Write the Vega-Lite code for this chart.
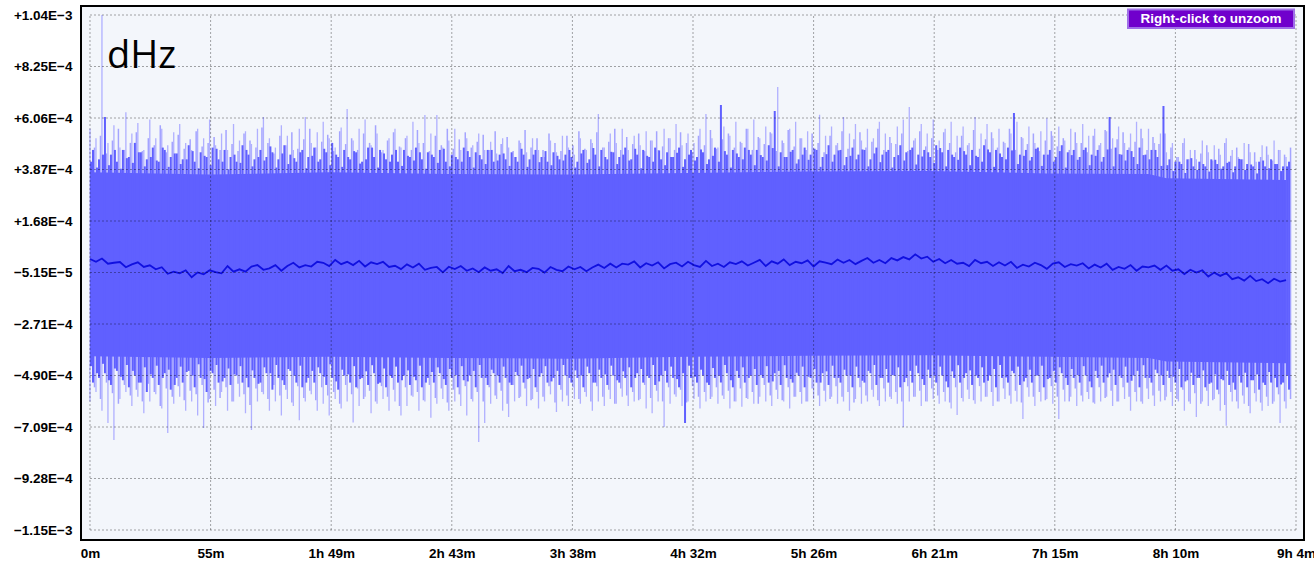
{
  "$schema": "https://vega.github.io/schema/vega-lite/v6.json",
  "width": 1223,
  "height": 534,
  "autosize": {"type": "none"},
  "padding": {"left": 81, "top": 6, "right": 10, "bottom": 23},
  "background": "white",
  "view": {"stroke": "black", "strokeWidth": 2, "fill": "#F3F6FB"},
  "config": {
    "axis": {"labelFont": "Liberation Sans", "labelFontWeight": "bold", "labelFontSize": 13.5, "labelColor": "black", "ticks": false, "domain": false, "grid": false, "labelOverlap": false, "labelFlush": false, "labelBound": false}
  },
  "datasets": {
    "yt": [{"v":1044.125},{"v":825},{"v":605.875},{"v":386.75},{"v":167.625},{"v":-51.5},{"v":-270.625},{"v":-489.75},{"v":-708.875},{"v":-928},{"v":-1147.125}],
    "xt": [{"t":0},{"t":54.45},{"t":108.9},{"t":163.35},{"t":217.8},{"t":272.25},{"t":326.7},{"t":381.15},{"t":435.6},{"t":490.05},{"t":544.5}],
    "band": [
      {"t":0,"top":375,"bot":-408},{"t":54,"top":365,"bot":-415},{"t":108,"top":375,"bot":-410},{"t":162,"top":368,"bot":-415},
      {"t":216,"top":366,"bot":-418},{"t":270,"top":372,"bot":-410},{"t":324,"top":378,"bot":-406},{"t":378,"top":380,"bot":-404},
      {"t":432,"top":370,"bot":-410},{"t":478,"top":368,"bot":-415},{"t":486,"top":350,"bot":-430},{"t":540,"top":342,"bot":-438}
    ],
    "sig": [
      {"t":0,"hi":560,"lo":-600,"h2":470,"l2":-520,"a":420,"b":-450,"c":480,"d":-540,"m":6},
      {"t":2.7,"hi":520,"lo":-560,"h2":430,"l2":-500,"a":395,"b":-480,"c":530,"d":-590,"m":-6},
      {"t":5.4,"hi":1044,"lo":-640,"h2":610,"l2":-480,"a":450,"b":-440,"c":455,"d":-520,"m":8},
      {"t":8.1,"hi":500,"lo":-692,"h2":450,"l2":-530,"a":405,"b":-510,"c":510,"d":-565,"m":-14},
      {"t":10.8,"hi":575,"lo":-764,"h2":420,"l2":-470,"a":470,"b":-460,"c":560,"d":-610,"m":-10},
      {"t":13.5,"hi":480,"lo":-590,"h2":470,"l2":-510,"a":390,"b":-495,"c":470,"d":-530,"m":-7},
      {"t":16.2,"hi":630,"lo":-560,"h2":440,"l2":-540,"a":435,"b":-445,"c":500,"d":-575,"m":-29},
      {"t":18.9,"hi":540,"lo":-620,"h2":500,"l2":-490,"a":415,"b":-470,"c":545,"d":-550,"m":-17},
      {"t":21.6,"hi":585,"lo":-580,"h2":460,"l2":-520,"a":460,"b":-520,"c":465,"d":-600,"m":-8},
      {"t":24.3,"hi":470,"lo":-650,"h2":430,"l2":-560,"a":400,"b":-455,"c":520,"d":-525,"m":-28},
      {"t":27,"hi":600,"lo":-600,"h2":480,"l2":-500,"a":440,"b":-485,"c":490,"d":-560,"m":-21},
      {"t":29.7,"hi":520,"lo":-570,"h2":420,"l2":-530,"a":425,"b":-448,"c":575,"d":-620,"m":-38},
      {"t":32.4,"hi":560,"lo":-630,"h2":470,"l2":-480,"a":480,"b":-500,"c":460,"d":-545,"m":-29},
      {"t":35.1,"hi":490,"lo":-734,"h2":440,"l2":-550,"a":398,"b":-465,"c":505,"d":-580,"m":-57},
      {"t":37.8,"hi":545,"lo":-610,"h2":455,"l2":-500,"a":455,"b":-530,"c":535,"d":-535,"m":-48},
      {"t":40.5,"hi":580,"lo":-580,"h2":430,"l2":-520,"a":410,"b":-452,"c":475,"d":-595,"m":-55},
      {"t":43.2,"hi":500,"lo":-640,"h2":490,"l2":-470,"a":430,"b":-475,"c":515,"d":-555,"m":-42},
      {"t":45.9,"hi":470,"lo":-600,"h2":420,"l2":-540,"a":465,"b":-490,"c":550,"d":-570,"m":-72},
      {"t":48.6,"hi":560,"lo":-660,"h2":460,"l2":-500,"a":392,"b":-442,"c":485,"d":-530,"m":-51},
      {"t":51.3,"hi":520,"lo":-713,"h2":440,"l2":-560,"a":445,"b":-505,"c":500,"d":-605,"m":-59},
      {"t":54,"hi":600,"lo":-590,"h2":480,"l2":-480,"a":405,"b":-470,"c":525,"d":-550,"m":-42},
      {"t":56.7,"hi":490,"lo":-620,"h2":430,"l2":-520,"a":475,"b":-445,"c":470,"d":-585,"m":-50},
      {"t":59.4,"hi":540,"lo":-560,"h2":470,"l2":-500,"a":420,"b":-515,"c":555,"d":-540,"m":-55},
      {"t":62.1,"hi":470,"lo":-640,"h2":440,"l2":-530,"a":388,"b":-460,"c":495,"d":-600,"m":-24},
      {"t":64.8,"hi":580,"lo":-600,"h2":420,"l2":-490,"a":450,"b":-485,"c":465,"d":-525,"m":-48},
      {"t":67.5,"hi":510,"lo":-580,"h2":490,"l2":-520,"a":415,"b":-450,"c":540,"d":-570,"m":-38},
      {"t":70.2,"hi":550,"lo":-650,"h2":450,"l2":-540,"a":470,"b":-500,"c":510,"d":-615,"m":-48},
      {"t":72.9,"hi":495,"lo":-722,"h2":430,"l2":-500,"a":400,"b":-468,"c":480,"d":-545,"m":-26},
      {"t":75.6,"hi":560,"lo":-600,"h2":470,"l2":-520,"a":440,"b":-525,"c":565,"d":-560,"m":-20},
      {"t":78.3,"hi":610,"lo":-570,"h2":440,"l2":-480,"a":425,"b":-455,"c":500,"d":-590,"m":-40},
      {"t":81,"hi":520,"lo":-640,"h2":460,"l2":-550,"a":485,"b":-480,"c":455,"d":-530,"m":-34},
      {"t":83.7,"hi":480,"lo":-600,"h2":430,"l2":-500,"a":395,"b":-445,"c":530,"d":-575,"m":-20},
      {"t":86.4,"hi":575,"lo":-660,"h2":490,"l2":-530,"a":455,"b":-510,"c":490,"d":-550,"m":-44},
      {"t":89.1,"hi":530,"lo":-590,"h2":450,"l2":-470,"a":410,"b":-462,"c":545,"d":-605,"m":-24},
      {"t":91.8,"hi":470,"lo":-620,"h2":420,"l2":-520,"a":435,"b":-490,"c":475,"d":-535,"m":-10},
      {"t":94.5,"hi":560,"lo":-680,"h2":470,"l2":-540,"a":460,"b":-448,"c":515,"d":-585,"m":-30},
      {"t":97.2,"hi":610,"lo":-600,"h2":440,"l2":-500,"a":392,"b":-520,"c":560,"d":-555,"m":-20},
      {"t":99.9,"hi":500,"lo":-570,"h2":480,"l2":-520,"a":445,"b":-470,"c":480,"d":-595,"m":-26},
      {"t":102.6,"hi":545,"lo":-640,"h2":430,"l2":-480,"a":420,"b":-455,"c":505,"d":-540,"m":-6},
      {"t":105.3,"hi":590,"lo":-610,"h2":460,"l2":-530,"a":475,"b":-495,"c":535,"d":-575,"m":-10},
      {"t":108,"hi":520,"lo":-660,"h2":500,"l2":-500,"a":405,"b":-442,"c":465,"d":-560,"m":-24},
      {"t":110.7,"hi":480,"lo":-590,"h2":440,"l2":-550,"a":450,"b":-515,"c":550,"d":-610,"m":2},
      {"t":113.4,"hi":565,"lo":-630,"h2":470,"l2":-490,"a":398,"b":-465,"c":495,"d":-530,"m":-16},
      {"t":116.1,"hi":644,"lo":-600,"h2":430,"l2":-520,"a":440,"b":-485,"c":520,"d":-570,"m":-6},
      {"t":118.8,"hi":510,"lo":-690,"h2":460,"l2":-540,"a":465,"b":-450,"c":470,"d":-545,"m":-20},
      {"t":121.5,"hi":560,"lo":-620,"h2":420,"l2":-500,"a":412,"b":-505,"c":540,"d":-590,"m":-2},
      {"t":124.2,"hi":600,"lo":-580,"h2":480,"l2":-530,"a":430,"b":-472,"c":500,"d":-555,"m":-26},
      {"t":126.9,"hi":490,"lo":-650,"h2":440,"l2":-480,"a":480,"b":-446,"c":575,"d":-600,"m":-8},
      {"t":129.6,"hi":540,"lo":-610,"h2":470,"l2":-520,"a":395,"b":-525,"c":460,"d":-535,"m":-16},
      {"t":132.3,"hi":470,"lo":-590,"h2":430,"l2":-540,"a":455,"b":-460,"c":510,"d":-580,"m":-6},
      {"t":135,"hi":520,"lo":-640,"h2":450,"l2":-500,"a":420,"b":-490,"c":545,"d":-550,"m":-28},
      {"t":137.7,"hi":560,"lo":-600,"h2":420,"l2":-520,"a":470,"b":-452,"c":485,"d":-620,"m":-23},
      {"t":140.4,"hi":480,"lo":-660,"h2":470,"l2":-490,"a":402,"b":-510,"c":520,"d":-540,"m":-37},
      {"t":143.1,"hi":530,"lo":-620,"h2":440,"l2":-530,"a":445,"b":-468,"c":470,"d":-575,"m":-17},
      {"t":145.8,"hi":590,"lo":-580,"h2":480,"l2":-510,"a":425,"b":-495,"c":555,"d":-560,"m":-30},
      {"t":148.5,"hi":500,"lo":-640,"h2":430,"l2":-540,"a":460,"b":-448,"c":500,"d":-595,"m":-14},
      {"t":151.2,"hi":619,"lo":-600,"h2":460,"l2":-500,"a":390,"b":-520,"c":465,"d":-530,"m":-40},
      {"t":153.9,"hi":540,"lo":-670,"h2":440,"l2":-520,"a":450,"b":-475,"c":530,"d":-585,"m":-32},
      {"t":156.6,"hi":619,"lo":-610,"h2":470,"l2":-480,"a":415,"b":-455,"c":490,"d":-545,"m":-28},
      {"t":159.3,"hi":480,"lo":-590,"h2":420,"l2":-530,"a":475,"b":-505,"c":560,"d":-605,"m":-51},
      {"t":162,"hi":510,"lo":-640,"h2":450,"l2":-500,"a":400,"b":-462,"c":475,"d":-550,"m":-27},
      {"t":164.7,"hi":560,"lo":-600,"h2":430,"l2":-540,"a":440,"b":-488,"c":515,"d":-570,"m":-37},
      {"t":167.4,"hi":470,"lo":-620,"h2":480,"l2":-510,"a":420,"b":-450,"c":545,"d":-535,"m":-24},
      {"t":170.1,"hi":520,"lo":-660,"h2":440,"l2":-490,"a":465,"b":-515,"c":480,"d":-590,"m":-44},
      {"t":172.8,"hi":490,"lo":-600,"h2":460,"l2":-540,"a":395,"b":-470,"c":505,"d":-560,"m":-34},
      {"t":175.5,"hi":540,"lo":-773,"h2":430,"l2":-500,"a":448,"b":-445,"c":535,"d":-600,"m":-50},
      {"t":178.2,"hi":470,"lo":-692,"h2":470,"l2":-530,"a":410,"b":-500,"c":470,"d":-540,"m":-30},
      {"t":180.9,"hi":505,"lo":-610,"h2":420,"l2":-480,"a":470,"b":-465,"c":550,"d":-575,"m":-44},
      {"t":183.6,"hi":455,"lo":-590,"h2":450,"l2":-520,"a":425,"b":-490,"c":495,"d":-555,"m":-38},
      {"t":186.3,"hi":520,"lo":-640,"h2":430,"l2":-500,"a":455,"b":-452,"c":525,"d":-610,"m":-54},
      {"t":189,"hi":480,"lo":-666,"h2":460,"l2":-530,"a":402,"b":-520,"c":465,"d":-530,"m":-24},
      {"t":191.7,"hi":440,"lo":-600,"h2":420,"l2":-490,"a":440,"b":-475,"c":510,"d":-585,"m":-46},
      {"t":194.4,"hi":500,"lo":-580,"h2":450,"l2":-520,"a":475,"b":-448,"c":555,"d":-545,"m":-40},
      {"t":197.1,"hi":460,"lo":-620,"h2":430,"l2":-500,"a":398,"b":-505,"c":480,"d":-595,"m":-50},
      {"t":199.8,"hi":520,"lo":-590,"h2":470,"l2":-540,"a":450,"b":-462,"c":520,"d":-560,"m":-32},
      {"t":202.5,"hi":470,"lo":-630,"h2":440,"l2":-480,"a":418,"b":-495,"c":470,"d":-580,"m":-36},
      {"t":205.2,"hi":440,"lo":-600,"h2":420,"l2":-520,"a":465,"b":-450,"c":540,"d":-535,"m":-52},
      {"t":207.9,"hi":510,"lo":-570,"h2":460,"l2":-500,"a":405,"b":-515,"c":500,"d":-605,"m":-28},
      {"t":210.6,"hi":460,"lo":-645,"h2":430,"l2":-530,"a":445,"b":-470,"c":465,"d":-550,"m":-40},
      {"t":213.3,"hi":530,"lo":-600,"h2":450,"l2":-490,"a":425,"b":-445,"c":530,"d":-575,"m":-46},
      {"t":216,"hi":480,"lo":-620,"h2":440,"l2":-520,"a":470,"b":-500,"c":490,"d":-540,"m":-26},
      {"t":218.7,"hi":450,"lo":-590,"h2":420,"l2":-500,"a":395,"b":-468,"c":550,"d":-590,"m":-38},
      {"t":221.4,"hi":520,"lo":-610,"h2":470,"l2":-540,"a":455,"b":-490,"c":475,"d":-560,"m":-28},
      {"t":224.1,"hi":470,"lo":-580,"h2":430,"l2":-480,"a":415,"b":-452,"c":515,"d":-600,"m":-46},
      {"t":226.8,"hi":500,"lo":-640,"h2":450,"l2":-520,"a":478,"b":-520,"c":545,"d":-535,"m":-30},
      {"t":229.5,"hi":623,"lo":-600,"h2":470,"l2":-500,"a":400,"b":-465,"c":480,"d":-580,"m":-18},
      {"t":232.2,"hi":480,"lo":-620,"h2":430,"l2":-530,"a":440,"b":-485,"c":505,"d":-550,"m":-32},
      {"t":234.9,"hi":540,"lo":-590,"h2":460,"l2":-490,"a":462,"b":-448,"c":560,"d":-610,"m":-14},
      {"t":237.6,"hi":500,"lo":-610,"h2":440,"l2":-520,"a":410,"b":-510,"c":470,"d":-545,"m":-30},
      {"t":240.3,"hi":560,"lo":-580,"h2":480,"l2":-500,"a":450,"b":-472,"c":525,"d":-575,"m":-14},
      {"t":243,"hi":470,"lo":-620,"h2":430,"l2":-540,"a":425,"b":-455,"c":495,"d":-560,"m":-18},
      {"t":245.7,"hi":530,"lo":-600,"h2":450,"l2":-480,"a":475,"b":-500,"c":540,"d":-595,"m":-4},
      {"t":248.4,"hi":490,"lo":-590,"h2":470,"l2":-520,"a":392,"b":-462,"c":465,"d":-530,"m":-30},
      {"t":251.1,"hi":550,"lo":-630,"h2":440,"l2":-500,"a":445,"b":-490,"c":510,"d":-585,"m":-12},
      {"t":253.8,"hi":510,"lo":-650,"h2":480,"l2":-530,"a":420,"b":-445,"c":550,"d":-555,"m":-22},
      {"t":256.5,"hi":470,"lo":-600,"h2":430,"l2":-490,"a":468,"b":-515,"c":485,"d":-600,"m":-8},
      {"t":259.2,"hi":560,"lo":-709,"h2":460,"l2":-520,"a":405,"b":-470,"c":520,"d":-540,"m":-34},
      {"t":261.9,"hi":520,"lo":-610,"h2":440,"l2":-500,"a":440,"b":-452,"c":470,"d":-570,"m":-16},
      {"t":264.6,"hi":580,"lo":-580,"h2":480,"l2":-540,"a":458,"b":-505,"c":545,"d":-550,"m":-10},
      {"t":267.3,"hi":490,"lo":-620,"h2":430,"l2":-692,"a":398,"b":-480,"c":500,"d":-605,"m":-26},
      {"t":270,"hi":540,"lo":-600,"h2":470,"l2":-500,"a":450,"b":-448,"c":460,"d":-535,"m":-6},
      {"t":272.7,"hi":500,"lo":-590,"h2":440,"l2":-520,"a":425,"b":-495,"c":530,"d":-580,"m":-20},
      {"t":275.4,"hi":560,"lo":-630,"h2":460,"l2":-490,"a":472,"b":-465,"c":490,"d":-560,"m":-28},
      {"t":278.1,"hi":623,"lo":-600,"h2":430,"l2":-530,"a":410,"b":-520,"c":555,"d":-590,"m":-2},
      {"t":280.8,"hi":520,"lo":-580,"h2":480,"l2":-500,"a":445,"b":-458,"c":475,"d":-540,"m":-24},
      {"t":283.5,"hi":480,"lo":-610,"h2":661,"l2":-520,"a":420,"b":-490,"c":515,"d":-575,"m":-14},
      {"t":286.2,"hi":570,"lo":-590,"h2":450,"l2":-480,"a":465,"b":-445,"c":540,"d":-555,"m":-28},
      {"t":288.9,"hi":530,"lo":-630,"h2":470,"l2":-540,"a":395,"b":-510,"c":480,"d":-600,"m":-8},
      {"t":291.6,"hi":590,"lo":-600,"h2":440,"l2":-500,"a":455,"b":-470,"c":505,"d":-545,"m":-16},
      {"t":294.3,"hi":500,"lo":-623,"h2":480,"l2":-520,"a":430,"b":-455,"c":560,"d":-585,"m":-4},
      {"t":297,"hi":560,"lo":-590,"h2":450,"l2":-490,"a":470,"b":-500,"c":470,"d":-560,"m":-22},
      {"t":299.7,"hi":600,"lo":-610,"h2":470,"l2":-530,"a":405,"b":-462,"c":525,"d":-610,"m":-10},
      {"t":302.4,"hi":520,"lo":-580,"h2":440,"l2":-500,"a":448,"b":-488,"c":495,"d":-530,"m":2},
      {"t":305.1,"hi":570,"lo":-600,"h2":490,"l2":-520,"a":425,"b":-450,"c":545,"d":-575,"m":-24},
      {"t":307.8,"hi":540,"lo":-620,"h2":636,"l2":-480,"a":478,"b":-515,"c":465,"d":-550,"m":-4},
      {"t":310.5,"hi":738,"lo":-590,"h2":460,"l2":-530,"a":400,"b":-470,"c":510,"d":-595,"m":-14},
      {"t":313.2,"hi":500,"lo":-600,"h2":440,"l2":-500,"a":440,"b":-446,"c":555,"d":-540,"m":4},
      {"t":315.9,"hi":560,"lo":-630,"h2":470,"l2":-520,"a":462,"b":-505,"c":485,"d":-580,"m":-20},
      {"t":318.6,"hi":590,"lo":-580,"h2":430,"l2":-490,"a":412,"b":-478,"c":520,"d":-560,"m":-6},
      {"t":321.3,"hi":520,"lo":-610,"h2":480,"l2":-540,"a":450,"b":-452,"c":470,"d":-600,"m":-12},
      {"t":324,"hi":550,"lo":-600,"h2":450,"l2":-500,"a":428,"b":-495,"c":540,"d":-545,"m":0},
      {"t":326.7,"hi":480,"lo":-590,"h2":470,"l2":-520,"a":475,"b":-462,"c":500,"d":-575,"m":-26},
      {"t":329.4,"hi":620,"lo":-620,"h2":440,"l2":-480,"a":398,"b":-520,"c":460,"d":-555,"m":-4},
      {"t":332.1,"hi":530,"lo":-600,"h2":490,"l2":-530,"a":452,"b":-472,"c":530,"d":-590,"m":-10},
      {"t":334.8,"hi":570,"lo":-580,"h2":450,"l2":-500,"a":420,"b":-448,"c":490,"d":-535,"m":-16},
      {"t":337.5,"hi":500,"lo":-610,"h2":470,"l2":-520,"a":468,"b":-500,"c":550,"d":-580,"m":4},
      {"t":340.2,"hi":610,"lo":-600,"h2":440,"l2":-490,"a":405,"b":-465,"c":475,"d":-560,"m":-10},
      {"t":342.9,"hi":540,"lo":-640,"h2":480,"l2":-540,"a":445,"b":-490,"c":515,"d":-605,"m":2},
      {"t":345.6,"hi":580,"lo":-590,"h2":450,"l2":-500,"a":430,"b":-452,"c":545,"d":-540,"m":-16},
      {"t":348.3,"hi":510,"lo":-610,"h2":470,"l2":-520,"a":472,"b":-512,"c":480,"d":-575,"m":-2},
      {"t":351,"hi":560,"lo":-600,"h2":430,"l2":-480,"a":400,"b":-470,"c":505,"d":-550,"m":10},
      {"t":353.7,"hi":520,"lo":-580,"h2":480,"l2":-530,"a":455,"b":-445,"c":560,"d":-595,"m":-10},
      {"t":356.4,"hi":590,"lo":-620,"h2":450,"l2":-500,"a":418,"b":-500,"c":470,"d":-545,"m":2},
      {"t":359.1,"hi":540,"lo":-600,"h2":470,"l2":-520,"a":462,"b":-462,"c":525,"d":-580,"m":-12},
      {"t":361.8,"hi":500,"lo":-590,"h2":440,"l2":-490,"a":395,"b":-488,"c":495,"d":-560,"m":10},
      {"t":364.5,"hi":570,"lo":-610,"h2":490,"l2":-540,"a":448,"b":-455,"c":540,"d":-600,"m":0},
      {"t":367.2,"hi":600,"lo":-709,"h2":460,"l2":-500,"a":425,"b":-518,"c":465,"d":-535,"m":14},
      {"t":369.9,"hi":653,"lo":-600,"h2":480,"l2":-520,"a":470,"b":-470,"c":510,"d":-580,"m":4},
      {"t":372.6,"hi":520,"lo":-580,"h2":450,"l2":-480,"a":408,"b":-448,"c":550,"d":-555,"m":26},
      {"t":375.3,"hi":580,"lo":-620,"h2":470,"l2":-530,"a":442,"b":-505,"c":485,"d":-600,"m":8},
      {"t":378,"hi":540,"lo":-600,"h2":440,"l2":-500,"a":460,"b":-465,"c":520,"d":-545,"m":16},
      {"t":380.7,"hi":600,"lo":-590,"h2":490,"l2":-520,"a":415,"b":-490,"c":470,"d":-575,"m":-6},
      {"t":383.4,"hi":510,"lo":-610,"h2":460,"l2":-490,"a":478,"b":-452,"c":545,"d":-560,"m":6},
      {"t":386.1,"hi":560,"lo":-600,"h2":470,"l2":-540,"a":400,"b":-515,"c":500,"d":-605,"m":-12},
      {"t":388.8,"hi":590,"lo":-630,"h2":440,"l2":-500,"a":450,"b":-472,"c":460,"d":-540,"m":2},
      {"t":391.5,"hi":530,"lo":-658,"h2":480,"l2":-520,"a":428,"b":-446,"c":530,"d":-585,"m":-14},
      {"t":394.2,"hi":570,"lo":-600,"h2":450,"l2":-480,"a":465,"b":-500,"c":490,"d":-550,"m":-10},
      {"t":396.9,"hi":500,"lo":-590,"h2":470,"l2":-530,"a":405,"b":-468,"c":555,"d":-595,"m":-24},
      {"t":399.6,"hi":610,"lo":-610,"h2":440,"l2":-500,"a":445,"b":-490,"c":475,"d":-535,"m":2},
      {"t":402.3,"hi":540,"lo":-600,"h2":490,"l2":-520,"a":420,"b":-455,"c":515,"d":-580,"m":-12},
      {"t":405,"hi":580,"lo":-580,"h2":460,"l2":-490,"a":472,"b":-512,"c":545,"d":-560,"m":-6},
      {"t":407.7,"hi":520,"lo":-620,"h2":470,"l2":-540,"a":398,"b":-462,"c":480,"d":-600,"m":-24},
      {"t":410.4,"hi":560,"lo":-600,"h2":440,"l2":-500,"a":455,"b":-445,"c":505,"d":-545,"m":-8},
      {"t":413.1,"hi":500,"lo":-590,"h2":480,"l2":-520,"a":430,"b":-498,"c":560,"d":-575,"m":-22},
      {"t":415.8,"hi":540,"lo":-610,"h2":627,"l2":-480,"a":468,"b":-470,"c":470,"d":-555,"m":-6},
      {"t":418.5,"hi":590,"lo":-600,"h2":450,"l2":-530,"a":410,"b":-452,"c":525,"d":-605,"m":-32},
      {"t":421.2,"hi":520,"lo":-675,"h2":470,"l2":-500,"a":445,"b":-515,"c":495,"d":-540,"m":-18},
      {"t":423.9,"hi":570,"lo":-580,"h2":440,"l2":-520,"a":425,"b":-465,"c":540,"d":-580,"m":-26},
      {"t":426.6,"hi":500,"lo":-620,"h2":480,"l2":-490,"a":475,"b":-490,"c":465,"d":-560,"m":-10},
      {"t":429.3,"hi":550,"lo":-600,"h2":450,"l2":-540,"a":402,"b":-448,"c":510,"d":-595,"m":-20},
      {"t":432,"hi":605,"lo":-590,"h2":470,"l2":-500,"a":450,"b":-505,"c":550,"d":-535,"m":-36},
      {"t":434.7,"hi":530,"lo":-610,"h2":440,"l2":-520,"a":420,"b":-470,"c":485,"d":-580,"m":-14},
      {"t":437.4,"hi":570,"lo":-675,"h2":490,"l2":-480,"a":465,"b":-455,"c":520,"d":-550,"m":-8},
      {"t":440.1,"hi":510,"lo":-600,"h2":460,"l2":-530,"a":395,"b":-500,"c":470,"d":-600,"m":-28},
      {"t":442.8,"hi":560,"lo":-580,"h2":470,"l2":-500,"a":448,"b":-462,"c":545,"d":-545,"m":-16},
      {"t":445.5,"hi":500,"lo":-620,"h2":440,"l2":-520,"a":428,"b":-488,"c":500,"d":-575,"m":-22},
      {"t":448.2,"hi":580,"lo":-600,"h2":480,"l2":-490,"a":470,"b":-450,"c":460,"d":-560,"m":-12},
      {"t":450.9,"hi":530,"lo":-590,"h2":450,"l2":-540,"a":405,"b":-515,"c":530,"d":-605,"m":-34},
      {"t":453.6,"hi":560,"lo":-610,"h2":470,"l2":-500,"a":445,"b":-470,"c":490,"d":-540,"m":-18},
      {"t":456.3,"hi":500,"lo":-600,"h2":440,"l2":-520,"a":420,"b":-448,"c":555,"d":-585,"m":-30},
      {"t":459,"hi":550,"lo":-580,"h2":610,"l2":-480,"a":472,"b":-498,"c":475,"d":-555,"m":-14},
      {"t":461.7,"hi":520,"lo":-620,"h2":480,"l2":-530,"a":400,"b":-465,"c":515,"d":-600,"m":-40},
      {"t":464.4,"hi":570,"lo":-600,"h2":450,"l2":-500,"a":452,"b":-490,"c":545,"d":-540,"m":-28},
      {"t":467.1,"hi":500,"lo":-590,"h2":470,"l2":-520,"a":425,"b":-452,"c":480,"d":-580,"m":-36},
      {"t":469.8,"hi":540,"lo":-640,"h2":440,"l2":-490,"a":465,"b":-512,"c":505,"d":-560,"m":-20},
      {"t":472.5,"hi":590,"lo":-600,"h2":480,"l2":-540,"a":410,"b":-470,"c":560,"d":-600,"m":-44},
      {"t":475.2,"hi":520,"lo":-610,"h2":450,"l2":-500,"a":448,"b":-446,"c":470,"d":-545,"m":-26},
      {"t":477.9,"hi":560,"lo":-590,"h2":470,"l2":-520,"a":430,"b":-500,"c":525,"d":-575,"m":-30},
      {"t":480.6,"hi":500,"lo":-620,"h2":440,"l2":-480,"a":470,"b":-465,"c":495,"d":-555,"m":-22},
      {"t":483.3,"hi":540,"lo":-600,"h2":657,"l2":-530,"a":402,"b":-490,"c":540,"d":-595,"m":-40},
      {"t":486,"hi":460,"lo":-580,"h2":430,"l2":-500,"a":405,"b":-470,"c":480,"d":-560,"m":-22},
      {"t":488.7,"hi":500,"lo":-620,"h2":420,"l2":-520,"a":380,"b":-495,"c":440,"d":-590,"m":-44},
      {"t":491.4,"hi":440,"lo":-600,"h2":410,"l2":-540,"a":420,"b":-462,"c":500,"d":-550,"m":-38},
      {"t":494.1,"hi":520,"lo":-640,"h2":430,"l2":-510,"a":372,"b":-515,"c":430,"d":-600,"m":-58},
      {"t":496.8,"hi":470,"lo":-610,"h2":400,"l2":-530,"a":435,"b":-478,"c":470,"d":-565,"m":-40},
      {"t":499.5,"hi":430,"lo":-666,"h2":420,"l2":-500,"a":385,"b":-500,"c":455,"d":-610,"m":-52},
      {"t":502.2,"hi":510,"lo":-600,"h2":400,"l2":-540,"a":410,"b":-468,"c":490,"d":-555,"m":-42},
      {"t":504.9,"hi":460,"lo":-620,"h2":430,"l2":-520,"a":378,"b":-525,"c":425,"d":-595,"m":-69},
      {"t":507.6,"hi":490,"lo":-590,"h2":410,"l2":-550,"a":428,"b":-485,"c":475,"d":-570,"m":-52},
      {"t":510.3,"hi":450,"lo":-640,"h2":400,"l2":-510,"a":390,"b":-505,"c":500,"d":-615,"m":-66},
      {"t":513,"hi":520,"lo":-704,"h2":420,"l2":-530,"a":415,"b":-470,"c":445,"d":-560,"m":-54},
      {"t":515.7,"hi":470,"lo":-600,"h2":400,"l2":-550,"a":375,"b":-520,"c":480,"d":-600,"m":-80},
      {"t":518.4,"hi":440,"lo":-630,"h2":430,"l2":-520,"a":432,"b":-490,"c":430,"d":-575,"m":-72},
      {"t":521.1,"hi":500,"lo":-610,"h2":410,"l2":-540,"a":385,"b":-478,"c":495,"d":-620,"m":-86},
      {"t":523.8,"hi":460,"lo":-650,"h2":400,"l2":-510,"a":408,"b":-510,"c":460,"d":-565,"m":-66},
      {"t":526.5,"hi":420,"lo":-600,"h2":420,"l2":-550,"a":370,"b":-485,"c":440,"d":-605,"m":-88},
      {"t":529.2,"hi":490,"lo":-640,"h2":400,"l2":-530,"a":425,"b":-520,"c":485,"d":-580,"m":-80},
      {"t":531.9,"hi":450,"lo":-620,"h2":430,"l2":-520,"a":392,"b":-475,"c":425,"d":-610,"m":-97},
      {"t":534.6,"hi":510,"lo":-600,"h2":410,"l2":-540,"a":410,"b":-500,"c":470,"d":-570,"m":-78},
      {"t":537.3,"hi":470,"lo":-692,"h2":400,"l2":-520,"a":380,"b":-528,"c":450,"d":-600,"m":-90},
      {"t":540,"hi":440,"lo":-630,"h2":420,"l2":-550,"a":400,"b":-490,"c":480,"d":-590,"m":-84}
    ]
  },
  "layer": [
    {
      "data": {"name": "sig"},
      "mark": {"type": "rule", "color": "#B0B0FF", "strokeWidth": 1.3},
      "encoding": {
        "x": {"field": "t", "type": "quantitative", "scale": {"domain": [-4.0634, 548.11], "nice": false, "zero": false},
          "axis": {"title": null, "values": [0,54.45,108.9,163.35,217.8,272.25,326.7,381.15,435.6,490.05,544.5], "labelPadding": 6,
            "labelExpr": "['0m','55m','1h 49m','2h 43m','3h 38m','4h 32m','5h 26m','6h 21m','7h 15m','8h 10m','9h 4m'][round(datum.value/54.45)]"}},
        "y": {"field": "lo", "type": "quantitative", "scale": {"domain": [-1189.67, 1082.42], "nice": false, "zero": false},
          "axis": {"title": null, "values": [1044.125,825,605.875,386.75,167.625,-51.5,-270.625,-489.75,-708.875,-928,-1147.125], "labelPadding": 9,
            "labelExpr": "['+1.04E−3','+8.25E−4','+6.06E−4','+3.87E−4','+1.68E−4','−5.15E−5','−2.71E−4','−4.90E−4','−7.09E−4','−9.28E−4','−1.15E−3'][round((1044.125-datum.value)/219.125)]"}},
        "y2": {"field": "hi"}
      }
    },
    {
      "data": {"name": "sig"},
      "mark": {"type": "rule", "color": "#A4A4FF", "strokeWidth": 1.5, "xOffset": 4.5},
      "encoding": {
        "x": {"field": "t", "type": "quantitative", "scale": {"domain": [-4.0634, 548.11], "nice": false, "zero": false}},
        "y": {"field": "d", "type": "quantitative", "scale": {"domain": [-1189.67, 1082.42], "nice": false, "zero": false}},
        "y2": {"field": "c"}
      }
    },
    {
      "data": {"name": "band"},
      "mark": {"type": "area", "color": "#6060FF", "opacity": 1},
      "encoding": {
        "x": {"field": "t", "type": "quantitative", "scale": {"domain": [-4.0634, 548.11], "nice": false, "zero": false}},
        "y": {"field": "top", "type": "quantitative", "scale": {"domain": [-1189.67, 1082.42], "nice": false, "zero": false}},
        "y2": {"field": "bot"}
      }
    },
    {
      "data": {"name": "sig"},
      "mark": {"type": "rule", "color": "#6060FF", "strokeWidth": 2, "xOffset": 3},
      "encoding": {
        "x": {"field": "t", "type": "quantitative", "scale": {"domain": [-4.0634, 548.11], "nice": false, "zero": false}},
        "y": {"field": "l2", "type": "quantitative", "scale": {"domain": [-1189.67, 1082.42], "nice": false, "zero": false}},
        "y2": {"field": "h2"}
      }
    },
    {
      "data": {"name": "sig"},
      "mark": {"type": "rule", "color": "#6060FF", "strokeWidth": 2, "xOffset": 1},
      "encoding": {
        "x": {"field": "t", "type": "quantitative", "scale": {"domain": [-4.0634, 548.11], "nice": false, "zero": false}},
        "y": {"field": "b", "type": "quantitative", "scale": {"domain": [-1189.67, 1082.42], "nice": false, "zero": false}},
        "y2": {"field": "a"}
      }
    },
    {
      "data": {"name": "sig"},
      "mark": {"type": "line", "color": "#1010E0", "strokeWidth": 1.8},
      "encoding": {
        "x": {"field": "t", "type": "quantitative", "scale": {"domain": [-4.0634, 548.11], "nice": false, "zero": false}},
        "y": {"field": "m", "type": "quantitative", "scale": {"domain": [-1189.67, 1082.42], "nice": false, "zero": false}}
      }
    },
    {
      "data": {"name": "yt"},
      "mark": {"type": "rule", "color": "black", "opacity": 0.35, "strokeWidth": 1, "strokeDash": [2, 2]},
      "encoding": {
        "y": {"field": "v", "type": "quantitative", "scale": {"domain": [-1189.67, 1082.42], "nice": false, "zero": false}},
        "x": {"datum": 0, "type": "quantitative", "scale": {"domain": [-4.0634, 548.11], "nice": false, "zero": false}},
        "x2": {"datum": 544.5}
      }
    },
    {
      "data": {"name": "xt"},
      "mark": {"type": "rule", "color": "black", "opacity": 0.35, "strokeWidth": 1, "strokeDash": [2, 2]},
      "encoding": {
        "x": {"field": "t", "type": "quantitative", "scale": {"domain": [-4.0634, 548.11], "nice": false, "zero": false}},
        "y": {"datum": -1147.125, "type": "quantitative", "scale": {"domain": [-1189.67, 1082.42], "nice": false, "zero": false}},
        "y2": {"datum": 1044.125}
      }
    },
    {
      "data": {"values": [{"label": "dHz"}]},
      "mark": {"type": "text", "font": "Open Sans", "fontSize": 38, "color": "black", "align": "left", "baseline": "alphabetic"},
      "encoding": {
        "x": {"datum": 7.7, "type": "quantitative", "scale": {"domain": [-4.0634, 548.11], "nice": false, "zero": false}},
        "y": {"datum": 818.6, "type": "quantitative", "scale": {"domain": [-1189.67, 1082.42], "nice": false, "zero": false}},
        "text": {"field": "label"}
      }
    },
    {
      "data": {"values": [{"label": "Right-click to unzoom"}]},
      "mark": {"type": "rect", "fill": "#7000CC", "stroke": "#A070E8", "strokeWidth": 2},
      "encoding": {
        "x": {"datum": 468.65, "type": "quantitative", "scale": {"domain": [-4.0634, 548.11], "nice": false, "zero": false}},
        "x2": {"datum": 543.6},
        "y": {"datum": 988.8, "type": "quantitative", "scale": {"domain": [-1189.67, 1082.42], "nice": false, "zero": false}},
        "y2": {"datum": 1067.5}
      }
    },
    {
      "data": {"values": [{"label": "Right-click to unzoom"}]},
      "mark": {"type": "text", "font": "Liberation Sans", "fontWeight": "bold", "fontSize": 13.5, "color": "white", "align": "center", "baseline": "middle"},
      "encoding": {
        "x": {"datum": 506.1, "type": "quantitative", "scale": {"domain": [-4.0634, 548.11], "nice": false, "zero": false}},
        "y": {"datum": 1029.2, "type": "quantitative", "scale": {"domain": [-1189.67, 1082.42], "nice": false, "zero": false}},
        "text": {"field": "label"}
      }
    }
  ]
}
